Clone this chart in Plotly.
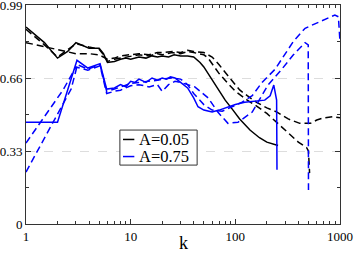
import plotly.graph_objects as go

# ---- data ----
k_black_solid = [1, 1.5, 2, 2.5, 3, 3.5, 4, 5, 5.5, 6, 7, 8, 9, 10, 12, 14, 16, 18, 20, 23, 26, 30, 35, 40, 46, 50, 55, 60, 70, 80, 95, 110, 138, 170, 200, 230, 256]
y_black_solid = [0.89, 0.82, 0.75, 0.78, 0.82, 0.805, 0.795, 0.795, 0.77, 0.73, 0.735, 0.745, 0.75, 0.745, 0.755, 0.75, 0.76, 0.755, 0.76, 0.755, 0.765, 0.76, 0.76, 0.755, 0.73, 0.71, 0.68, 0.65, 0.60, 0.56, 0.515, 0.475, 0.425, 0.39, 0.37, 0.36, 0.355]

k_black_dash_a = [1, 1.5, 2, 3, 4, 5, 5.5, 6, 7, 8, 10, 12, 15, 18, 20, 25, 30, 35, 40, 50, 55, 60, 70, 85, 100, 130, 154, 200, 255, 320, 400, 480, 500, 512]
y_black_dash_a = [0.88, 0.81, 0.755, 0.815, 0.80, 0.79, 0.765, 0.735, 0.745, 0.75, 0.76, 0.765, 0.76, 0.77, 0.765, 0.775, 0.77, 0.78, 0.775, 0.765, 0.75, 0.725, 0.68, 0.635, 0.60, 0.56, 0.538, 0.50, 0.455, 0.41, 0.37, 0.345, 0.33, 0.23]

k_black_dash_b = [1, 2, 3, 4, 5, 6, 7, 8, 10, 12, 15, 18, 20, 25, 30, 35, 40, 50, 60, 70, 85, 110, 130, 160, 200, 250, 320, 413, 520, 600, 700, 850, 1000]
y_black_dash_b = [0.82, 0.787, 0.77, 0.77, 0.765, 0.745, 0.75, 0.76, 0.765, 0.77, 0.765, 0.775, 0.775, 0.78, 0.775, 0.785, 0.78, 0.775, 0.755, 0.72, 0.67, 0.606, 0.58, 0.55, 0.525, 0.506, 0.475, 0.455, 0.455, 0.47, 0.48, 0.485, 0.48]

k_blue_solid = [1, 2, 2.5, 3.07, 3.9, 5.1, 5.9, 7, 8, 9, 10, 11, 12, 14, 16, 18, 20, 22, 24, 26.5, 30, 35, 40, 44, 50, 60, 70, 85, 100, 123, 150, 191, 215, 233, 248, 250]
y_blue_solid = [0.46, 0.46, 0.606, 0.74, 0.705, 0.725, 0.61, 0.615, 0.63, 0.62, 0.645, 0.64, 0.655, 0.64, 0.66, 0.65, 0.66, 0.655, 0.665, 0.66, 0.64, 0.615, 0.57, 0.53, 0.515, 0.506, 0.515, 0.53, 0.54, 0.55, 0.555, 0.56, 0.58, 0.628, 0.56, 0.245]

k_blue_dash_a = [1, 2.26, 3, 3.9, 5.1, 5.9, 7, 8, 10, 12, 15, 18, 20, 23, 26.5, 30, 35, 41, 55, 68, 85, 106, 145, 205, 278, 357, 464, 497, 500]
y_blue_dash_a = [0.366, 0.606, 0.71, 0.695, 0.715, 0.59, 0.60, 0.605, 0.625, 0.63, 0.62, 0.63, 0.60, 0.63, 0.645, 0.64, 0.63, 0.62, 0.57, 0.506, 0.455, 0.46, 0.506, 0.628, 0.70, 0.764, 0.82, 0.81, 0.154]

k_blue_dash_b = [1, 1.8, 2.7, 3.1, 3.9, 5.1, 5.9, 7, 8, 10, 12, 15, 18, 20, 25, 30, 35, 40, 50, 60, 75, 93, 115, 145, 180, 240, 300, 357, 464, 643, 893, 965, 1000]
y_blue_dash_b = [0.235, 0.46, 0.61, 0.72, 0.70, 0.72, 0.60, 0.61, 0.62, 0.635, 0.64, 0.645, 0.65, 0.655, 0.66, 0.655, 0.63, 0.59, 0.54, 0.515, 0.51, 0.53, 0.55, 0.58, 0.64, 0.70, 0.77, 0.824, 0.885, 0.915, 0.945, 0.937, 0.824]

x_tick_vals = [1, 10, 100, 1000]
x_tick_text = ["1", "10", "100", "1000"]
y_tick_vals = [0, 0.33, 0.66, 0.99]
y_tick_text = ["0", "0.33", "0.66", "0.99"]
x_title = "k"
legend_labels = ["A=0.05", "A=0.75"]

BLACK = "#000000"
BLUE = "#0000ff"
DASH = "7px,4px"
LW = 1.5
FONT = "Liberation Serif"

fig = go.Figure()
series = [
    (k_black_dash_b, y_black_dash_b, BLACK, DASH),
    (k_black_dash_a, y_black_dash_a, BLACK, DASH),
    (k_black_solid, y_black_solid, BLACK, "solid"),
    (k_blue_dash_b, y_blue_dash_b, BLUE, DASH),
    (k_blue_dash_a, y_blue_dash_a, BLUE, DASH),
    (k_blue_solid, y_blue_solid, BLUE, "solid"),
]
for kx, yy, col, dash in series:
    fig.add_trace(go.Scatter(x=kx, y=yy, mode="lines",
                             line=dict(color=col, width=LW, dash=dash),
                             showlegend=False, hoverinfo="skip"))

minor_x = [m * 10 ** e for e in range(3) for m in range(2, 10)]

fig.update_layout(
    width=354, height=253,
    margin=dict(l=26, r=14, t=5, b=29),
    paper_bgcolor="white", plot_bgcolor="white",
    font=dict(family=FONT, size=13, color="black"),
    xaxis=dict(type="log", range=[0, 3], automargin=False,
               tickmode="array", tickvals=x_tick_vals, ticktext=x_tick_text,
               ticks="inside", ticklen=5, tickcolor="#333",
               tickfont=dict(family=FONT, size=13), ticklabeloverflow="allow",
               minor=dict(tickmode="array", tickvals=minor_x, ticks="inside",
                          ticklen=3, tickcolor="#333", showgrid=False),
               showgrid=False, zeroline=False,
               showline=True, linecolor="#333", linewidth=1, mirror="ticks"),
    yaxis=dict(range=[0, 0.9901], automargin=False,
               tickmode="array", tickvals=y_tick_vals, ticktext=y_tick_text,
               ticks="inside", ticklen=5, tickcolor="#333",
               tickfont=dict(family=FONT, size=13), ticklabeloverflow="allow",
               minor=dict(tickmode="array", tickvals=[0.165, 0.495, 0.825],
                          ticks="inside", ticklen=3, tickcolor="#333", showgrid=False),
               showgrid=True, gridcolor="#dddddd", griddash="dash", gridwidth=1,
               zeroline=False,
               showline=True, linecolor="#333", linewidth=1, mirror="ticks"),
)

# x-axis title
fig.add_annotation(xref="paper", yref="paper", x=0.5, y=-0.087,
                   xanchor="center", yanchor="middle", showarrow=False,
                   text=x_title, font=dict(family=FONT, size=18, color="black"))

# custom legend (box, short line samples, labels)
fig.add_shape(type="rect", xref="paper", yref="paper",
              x0=0.299, x1=0.545, y0=0.269, y1=0.429,
              line=dict(color="#333", width=1), fillcolor="white", layer="above")
for row_y, col, lab in [(0.386, BLACK, legend_labels[0]), (0.308, BLUE, legend_labels[1])]:
    fig.add_shape(type="line", xref="paper", yref="paper",
                  x0=0.309, x1=0.345, y0=row_y, y1=row_y,
                  line=dict(color=col, width=LW), layer="above")
    fig.add_annotation(xref="paper", yref="paper", x=0.358, y=row_y,
                       xanchor="left", yanchor="middle", showarrow=False,
                       borderpad=0,
                       text=lab, font=dict(family=FONT, size=16.5, color="black"))

fig.write_html("out.html",
               config={"displayModeBar": False},
               post_script="document.body.style.margin='0';document.body.style.overflow='hidden';")
